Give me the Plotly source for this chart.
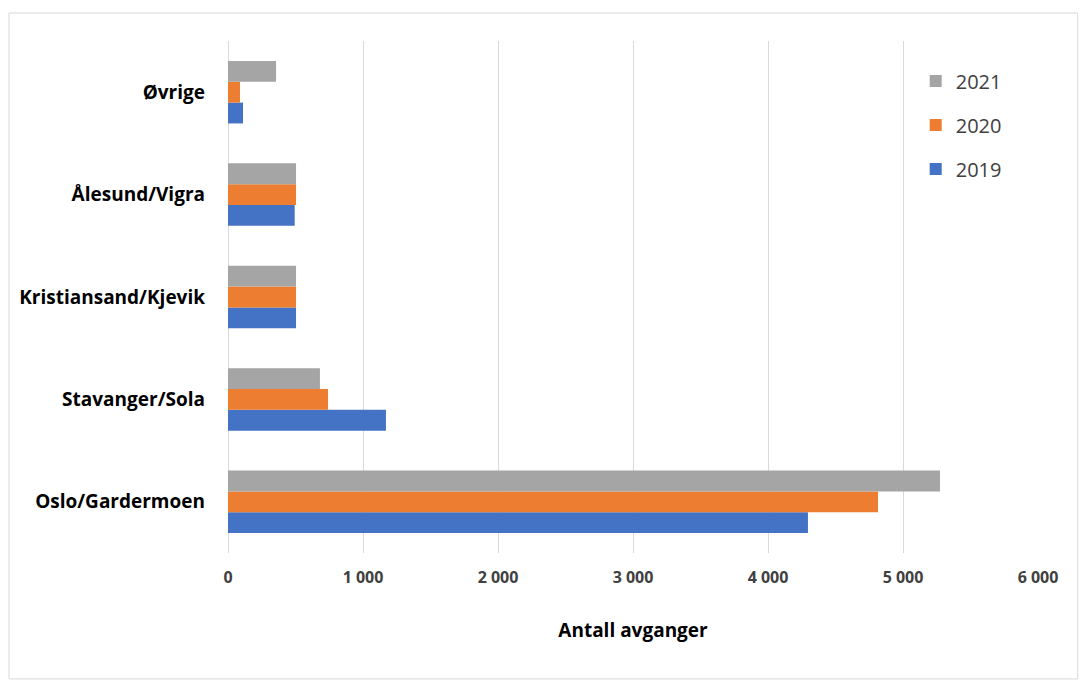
import plotly.graph_objects as go

categories = ["Oslo/Gardermoen", "Stavanger/Sola", "Kristiansand/Kjevik", "Ålesund/Vigra", "Øvrige"]
years = ["2019", "2020", "2021"]
values_2019 = [4296, 1170, 504, 494, 111]
values_2020 = [4815, 741, 504, 504, 89]
values_2021 = [5274, 681, 504, 504, 356]
colors = ["#4472C4", "#ED7D31", "#A5A5A5"]
legend_ranks = [3, 2, 1]
x_ticks = [0, 1000, 2000, 3000, 4000, 5000, 6000]

fig = go.Figure()
for name, vals, col, rank in zip(years, [values_2019, values_2020, values_2021], colors, legend_ranks):
    fig.add_trace(go.Bar(y=categories, x=vals, name=name, orientation="h",
                         marker=dict(color=col, line=dict(width=0)),
                         legendgroup=name, legendrank=rank))

font_family = "'Open Sans', sans-serif"
fig.update_layout(
    width=1082, height=682,
    margin=dict(l=228, r=44, t=41, b=129),
    paper_bgcolor="white", plot_bgcolor="white",
    barmode="group", bargap=0.39, bargroupgap=0,
    separators=", ",
    font=dict(family=font_family, color="#000000"),
    xaxis=dict(range=[0, 6000], tickvals=x_ticks, tickformat=",d",
               showgrid=True, gridcolor="#d9d9d9", gridwidth=1,
               zeroline=True, zerolinecolor="#d9d9d9", zerolinewidth=1,
               showline=False, ticks="",
               tickfont=dict(size=16, family=font_family, color="#404040", weight="bold"),
               title=dict(text="Antall avganger",
                          font=dict(size=19, family=font_family, color="#000", weight="bold"),
                          standoff=36),
               ticklabelstandoff=13),
    yaxis=dict(showgrid=False, showline=False, ticks="", zeroline=False,
               tickfont=dict(size=19, family=font_family, color="#000", weight="bold"),
               ticklabelstandoff=22),
    legend=dict(x=0.849, y=0.96, xanchor="left", yanchor="top",
                traceorder="grouped", tracegroupgap=15, itemwidth=30,
                font=dict(size=20, family=font_family, color="#404040"),
                bgcolor="rgba(0,0,0,0)"),
    shapes=[dict(type="rect", xref="paper", yref="paper",
                 x0=-0.2704, x1=1.049, y0=-0.246, y1=1.0547,
                 line=dict(color="#d9d9d9", width=1), fillcolor="rgba(0,0,0,0)", layer="below")],
)

fig.write_html("out.html")
